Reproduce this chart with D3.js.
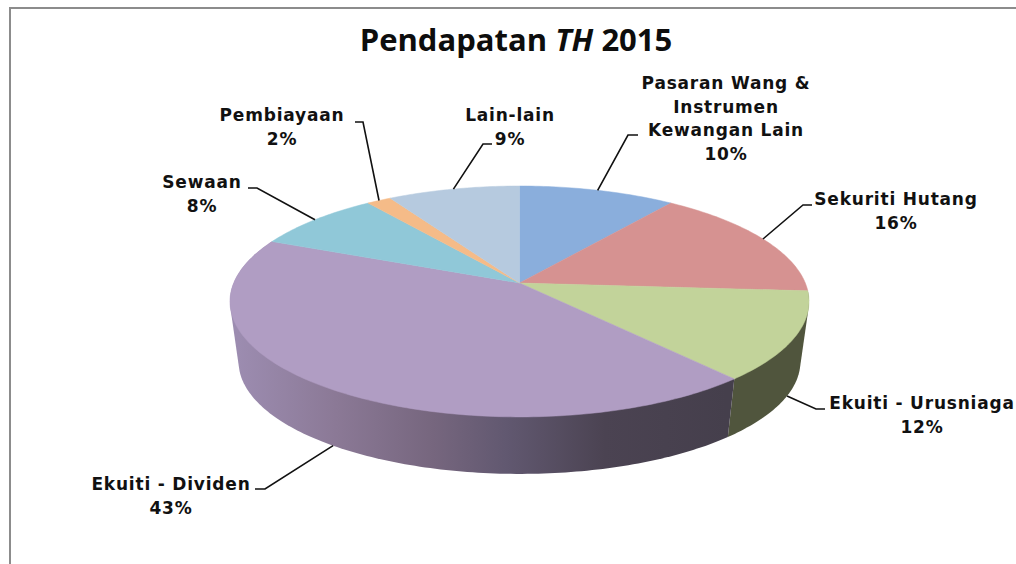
<!DOCTYPE html>
<html>
<head>
<meta charset="utf-8">
<script src="https://cdn.jsdelivr.net/npm/d3@7"></script>
<style>
  html, body { margin: 0; padding: 0; background: #fff; overflow: hidden; }
  svg { display: block; }
  .title { font-family: "Open Sans", sans-serif; font-weight: 700; font-size: 31px; fill: #0d0d0d; }
  .label { font-family: "DejaVu Sans", sans-serif; font-weight: 700; font-size: 17px; letter-spacing: 0.8px; fill: #111; text-anchor: middle; }
</style>
</head>
<body>
<div id="chart"></div>
<script>
// the label percentages are the rounded values
var categories = ["Pasaran Wang & Instrumen Kewangan Lain", "Sekuriti Hutang", "Ekuiti - Urusniaga",
                  "Ekuiti - Dividen", "Sewaan", "Pembiayaan", "Lain-lain"];
var values = [10.2, 15.9, 12.4, 42.9, 8.4, 1.6, 8.6];
var labelLines = [["Pasaran Wang &", "Instrumen", "Kewangan Lain"], ["Sekuriti Hutang"], ["Ekuiti - Urusniaga"],
                  ["Ekuiti - Dividen"], ["Sewaan"], ["Pembiayaan"], ["Lain-lain"]];
var topColors = ["#8aaedc", "#d69291", "#c2d39a", "#b09dc3", "#90c8d8", "#f5bb88", "#b6cadf"];

var width = 1016, height = 564;

// perspective of the pie plate
var apex = {x: 519.5, y: 283},
    rA = 285.8, rB = 112.5, tilt = -0.16,
    depth = 61, shrink = 0.97;

// label centre x, first baseline, leader elbow, leader end
var labelLayout = [
  {x: 726, y: 89,  elbow: [628, 135], end: [638, 135]},
  {x: 896, y: 205, elbow: [803, 205], end: [812, 205]},
  {x: 922, y: 409, elbow: [816, 409], end: [825, 409], front: true},
  {x: 171, y: 490, elbow: [265, 489], end: [255, 489], front: true},
  {x: 202, y: 188, elbow: [257, 188], end: [248, 188]},
  {x: 282, y: 121, elbow: [363, 122], end: [355, 122]},
  {x: 510, y: 121, elbow: [483, 144], end: [492, 144]}
];

function project(angle, floor) {
  var u = Math.sin(angle), v = -Math.cos(angle), w = 1 + tilt * v;
  var s = floor ? shrink : 1;
  return [apex.x + s * rA * u / w, apex.y + s * rB * v / w + (floor ? depth : 0)];
}

function arcPoints(a0, a1, floor) {
  var n = Math.max(2, Math.ceil((a1 - a0) * 60));
  return d3.range(n + 1).map(function(i){ return project(a0 + (a1 - a0) * i / n, floor); });
}

var arcs = d3.pie().sort(null)(values);
var line = d3.line();

var svg = d3.select("#chart").append("svg")
    .attr("width", width)
    .attr("height", height);

// frame, only top and left are in the picture
svg.append("path")
    .attr("d", line([[10, height], [10, 8], [width, 8]]))
    .attr("fill", "none")
    .attr("stroke", "#8c8c8c")
    .attr("stroke-width", 2);

var grad = svg.append("defs").append("linearGradient")
    .attr("id", "wallShade")
    .attr("gradientUnits", "userSpaceOnUse")
    .attr("x1", 238).attr("x2", 727).attr("y1", 0).attr("y2", 0);
[[0, "#9c8cb0"], [0.2, "#8b7996"], [0.4, "#76667e"], [0.55, "#615870"], [0.75, "#4b4352"], [1, "#453f4c"]]
  .forEach(function(d){
    grad.append("stop").attr("offset", d[0]).attr("stop-color", d[1]);
  });

// side walls, only the two front slices show
svg.selectAll(".wall")
    .data([{i: 2, fill: "#50553d"}, {i: 3, fill: "url(#wallShade)"}])
  .enter().append("path")
    .attr("class", "wall")
    .attr("d", function(d){
      var a = arcs[d.i];
      var pts = arcPoints(a.startAngle, a.endAngle, false).concat(arcPoints(a.startAngle, a.endAngle, true));
      return line(d3.polygonHull(pts)) + "Z";
    })
    .style("fill", function(d){ return d.fill; });

// top face
svg.selectAll(".slice")
    .data(arcs)
  .enter().append("path")
    .attr("class", "slice")
    .attr("d", function(d){
      return line([[apex.x, apex.y]].concat(arcPoints(d.startAngle, d.endAngle, false))) + "Z";
    })
    .style("fill", function(d, i){ return topColors[i]; })
    .style("stroke", function(d, i){ return topColors[i]; })
    .style("stroke-width", 0.5);

// leaders
svg.selectAll(".leader")
    .data(arcs)
  .enter().append("path")
    .attr("class", "leader")
    .attr("d", function(d, i){
      var l = labelLayout[i];
      return line([project((d.startAngle + d.endAngle) / 2, l.front), l.elbow, l.end]);
    })
    .attr("fill", "none")
    .attr("stroke", "#111")
    .attr("stroke-width", 1.6);

// labels
var lineStep = 23.5;
var lab = svg.selectAll(".label")
    .data(arcs)
  .enter().append("text")
    .attr("class", "label")
    .attr("y", function(d, i){ return labelLayout[i].y; });

lab.selectAll("tspan")
    .data(function(d, i){
      var lines = labelLines[i].concat([Math.round(d.value) + "%"]);
      return lines.map(function(t, j){ return {t: t, j: j, x: labelLayout[i].x, y: labelLayout[i].y}; });
    })
  .enter().append("tspan")
    .attr("x", function(d){ return d.x; })
    .attr("y", function(d){ return d.y + d.j * lineStep; })
    .text(function(d){ return d.t; });

var title = svg.append("text")
    .attr("class", "title")
    .attr("x", 516)
    .attr("y", 51)
    .attr("text-anchor", "middle");
title.append("tspan").text("Pendapatan ");
title.append("tspan").attr("font-style", "italic").text("TH");
title.append("tspan").text(" 2015");
</script>
</body>
</html>
